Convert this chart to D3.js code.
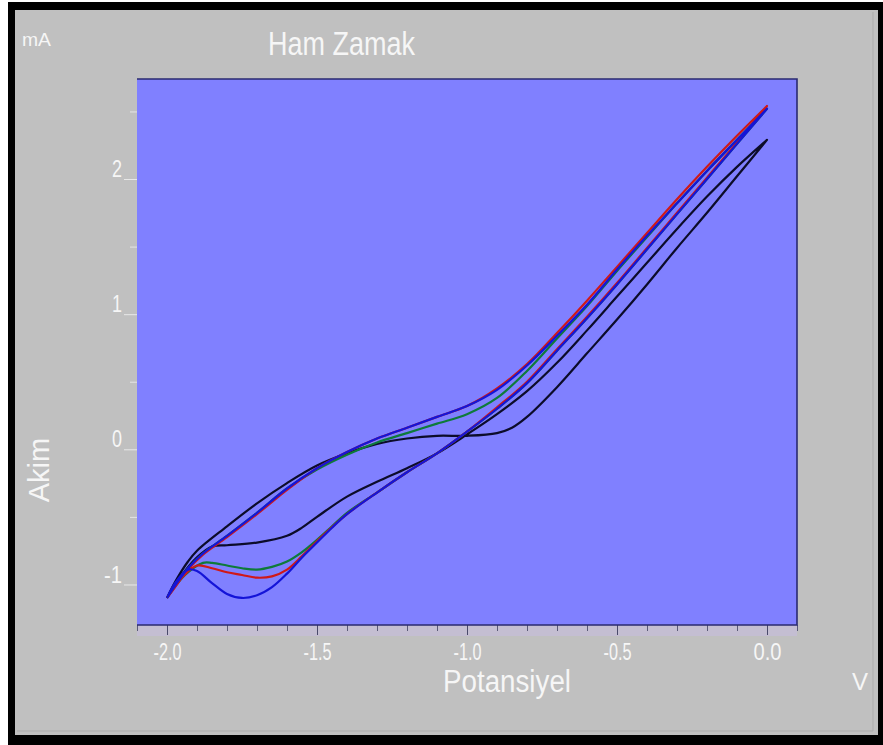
<!DOCTYPE html>
<html lang="tr">
<head>
    <meta charset="UTF-8">
    <title>Ham Zamak</title>
    <script src="https://d3js.org/d3.v7.min.js"></script>
    <style>
        body { margin: 0; padding: 0; background: #fff; }
        svg { display: block; }
        text { font-family: "Liberation Sans Narrow", "Arial Narrow", "Liberation Sans", sans-serif; fill: #f6f6f6; }
    </style>
</head>
<body>
<svg id="chart" width="883" height="745"></svg>
<script>
    // tick values
    const xMajor = [-2.0, -1.5, -1.0, -0.5, 0.0];
    const xMinor = d3.range(-21, 2).map(d => d / 10);
    const yMajor = [-1, 0, 1, 2];
    const yMinor = [-0.5, 0.5, 1.5, 2.5];

    // [potential V, current mA]
    const blackFwd = [[-2.0,-1.10],[-1.97,-0.97],[-1.93,-0.83],[-1.9,-0.75],[-1.8,-0.57],[-1.7,-0.40],[-1.6,-0.25],
        [-1.5,-0.12],[-1.4,-0.03],[-1.3,0.04],[-1.2,0.08],[-1.1,0.10],[-1.0,0.10],[-0.9,0.12],[-0.85,0.16],
        [-0.8,0.24],[-0.7,0.46],[-0.6,0.71],[-0.5,0.96],[-0.4,1.22],[-0.3,1.49],[-0.2,1.75],[-0.1,2.02],[0.0,2.29]];
    const blackRev = [[0.0,2.29],[-0.1,2.09],[-0.2,1.87],[-0.3,1.63],[-0.4,1.38],[-0.5,1.13],[-0.6,0.88],[-0.7,0.64],
        [-0.8,0.43],[-0.9,0.26],[-1.0,0.11],[-1.1,-0.03],[-1.2,-0.14],[-1.3,-0.24],[-1.4,-0.35],[-1.5,-0.50],
        [-1.55,-0.58],[-1.6,-0.64],[-1.7,-0.69],[-1.8,-0.71],[-1.85,-0.72],[-1.9,-0.80],[-1.95,-0.93],[-2.0,-1.10]];

    const blueFwd = [[-2.0,-1.10],[-1.97,-1.0],[-1.93,-0.88],[-1.88,-0.77],[-1.8,-0.64],[-1.7,-0.47],[-1.6,-0.29],
        [-1.5,-0.14],[-1.4,-0.02],[-1.3,0.08],[-1.2,0.16],[-1.1,0.24],[-1.0,0.32],[-0.9,0.44],[-0.8,0.62],
        [-0.7,0.84],[-0.6,1.07],[-0.5,1.33],[-0.4,1.58],[-0.3,1.82],[-0.2,2.06],[-0.1,2.29],[0.0,2.52]];
    const blueRev = [[0.0,2.52],[-0.1,2.26],[-0.2,2.0],[-0.3,1.74],[-0.4,1.48],[-0.5,1.22],[-0.6,0.97],[-0.7,0.73],
        [-0.8,0.49],[-0.9,0.30],[-1.0,0.13],[-1.1,-0.03],[-1.2,-0.17],[-1.3,-0.32],[-1.4,-0.48],[-1.45,-0.58],
        [-1.5,-0.69],[-1.55,-0.80],[-1.6,-0.92],[-1.65,-1.02],[-1.7,-1.08],[-1.75,-1.10],[-1.8,-1.07],
        [-1.85,-0.99],[-1.9,-0.90],[-1.93,-0.89],[-1.97,-0.98],[-2.0,-1.10]];

    const greenFwd = [[-2.0,-1.10],[-1.97,-1.0],[-1.93,-0.88],[-1.88,-0.77],[-1.8,-0.64],[-1.7,-0.47],[-1.6,-0.29],
        [-1.5,-0.15],[-1.4,-0.04],[-1.3,0.05],[-1.2,0.12],[-1.1,0.19],[-1.0,0.26],[-0.9,0.38],[-0.8,0.58],
        [-0.7,0.82],[-0.6,1.06],[-0.5,1.32],[-0.4,1.57],[-0.3,1.82],[-0.2,2.06],[-0.1,2.29],[0.0,2.52]];
    const greenRev = [[0.0,2.52],[-0.1,2.26],[-0.2,2.0],[-0.3,1.74],[-0.4,1.48],[-0.5,1.22],[-0.6,0.97],[-0.7,0.73],
        [-0.8,0.49],[-0.9,0.30],[-1.0,0.13],[-1.1,-0.03],[-1.2,-0.17],[-1.3,-0.32],[-1.4,-0.47],[-1.45,-0.57],
        [-1.5,-0.67],[-1.55,-0.76],[-1.6,-0.83],[-1.65,-0.87],[-1.7,-0.89],[-1.75,-0.88],[-1.8,-0.86],
        [-1.85,-0.84],[-1.88,-0.84],[-1.94,-0.93],[-2.0,-1.10]];

    const redFwd = [[-2.0,-1.10],[-1.97,-1.01],[-1.93,-0.89],[-1.88,-0.78],[-1.8,-0.65],[-1.7,-0.48],[-1.6,-0.30],
        [-1.5,-0.14],[-1.4,-0.02],[-1.3,0.08],[-1.2,0.16],[-1.1,0.24],[-1.0,0.32],[-0.9,0.45],[-0.8,0.63],
        [-0.7,0.86],[-0.6,1.10],[-0.5,1.35],[-0.4,1.60],[-0.3,1.85],[-0.2,2.09],[-0.1,2.32],[0.0,2.54]];
    const redRev = [[0.0,2.54],[-0.1,2.27],[-0.2,2.01],[-0.3,1.75],[-0.4,1.49],[-0.5,1.23],[-0.6,0.98],[-0.7,0.74],
        [-0.8,0.50],[-0.9,0.31],[-1.0,0.13],[-1.1,-0.03],[-1.2,-0.17],[-1.3,-0.32],[-1.4,-0.48],[-1.5,-0.68],
        [-1.55,-0.79],[-1.6,-0.89],[-1.65,-0.94],[-1.7,-0.95],[-1.75,-0.93],[-1.8,-0.91],[-1.85,-0.88],
        [-1.9,-0.86],[-1.95,-0.95],[-2.0,-1.10]];

    const series = [
        { name: "black", color: "#0c0c2a", pts: blackFwd.concat(blackRev) },
        { name: "green", color: "#0e7a3a", pts: greenFwd.concat(greenRev) },
        { name: "red",   color: "#d01818", pts: redFwd.concat(redRev) },
        { name: "blue",  color: "#1414d8", pts: blueFwd.concat(blueRev) }
    ];

    const svg = d3.select("#chart");
    const tickFont = "'Liberation Sans Narrow', 'Liberation Sans', sans-serif";

    // frame
    svg.append("rect").attr("x", 8).attr("y", 2).attr("width", 875).attr("height", 743).attr("fill", "#000");
    svg.append("rect").attr("x", 15).attr("y", 10).attr("width", 863).attr("height", 725).attr("fill", "#c0c0c0");
    svg.append("path").attr("d", "M873,12V731H17").attr("fill", "none").attr("stroke", "#ababab").attr("stroke-width", 1);

    const plot = { left: 137, right: 797, top: 79, bottom: 625 };
    const x = d3.scaleLinear().domain([-2.1, 0.1]).range([plot.left, plot.right]);
    const y = d3.scaleLinear().domain([-1.3, 2.74]).range([plot.bottom, plot.top]);

    // faint lavender strip under the axis
    svg.append("rect").attr("x", plot.left).attr("y", plot.bottom).attr("width", plot.right - plot.left)
        .attr("height", 11).attr("fill", "#c4bed2");

    svg.append("rect").attr("x", plot.left).attr("y", plot.top)
        .attr("width", plot.right - plot.left).attr("height", plot.bottom - plot.top)
        .attr("fill", "#8080ff");

    // x axis: minor + major ticks
    svg.append("g").attr("transform", `translate(0,${plot.bottom})`)
        .call(d3.axisBottom(x).tickValues(xMinor).tickSize(6).tickFormat(""))
        .call(g => g.select(".domain").remove())
        .call(g => g.selectAll("line").attr("stroke", "#5a5a78"));
    svg.append("g").attr("transform", `translate(0,${plot.bottom})`)
        .call(d3.axisBottom(x).tickValues(xMajor).tickSize(10).tickPadding(8).tickFormat(d => d.toFixed(1)))
        .call(g => g.select(".domain").remove())
        .call(g => g.selectAll("line").attr("stroke", "#4a4a6a"))
        .call(g => g.selectAll("text").attr("fill", "#f6f6f6").attr("font-size", 24)
            .attr("font-family", tickFont)
            .attr("textLength", 28).attr("lengthAdjust", "spacingAndGlyphs"));

    // y axis
    svg.append("g").attr("transform", `translate(${plot.left},0)`)
        .call(d3.axisLeft(y).tickValues(yMinor).tickSize(7).tickFormat(""))
        .call(g => g.select(".domain").remove())
        .call(g => g.selectAll("line").attr("stroke", "#e4e4e4"));
    svg.append("g").attr("transform", `translate(${plot.left},0)`)
        .call(d3.axisLeft(y).tickValues(yMajor).tickSize(13).tickPadding(2).tickFormat(d => String(d)))
        .call(g => g.select(".domain").remove())
        .call(g => g.selectAll("line").attr("stroke", "#e8e8e8"))
        .call(g => g.selectAll("text").attr("fill", "#f6f6f6").attr("font-size", 24).attr("dy", "-0.1em")
            .attr("font-family", tickFont)
            .attr("textLength", d => String(d).length * 8 + 2).attr("lengthAdjust", "spacingAndGlyphs"));

    // plot border (top, right, bottom)
    svg.append("path")
        .attr("d", `M${plot.left},${plot.top}H${plot.right}V${plot.bottom}H${plot.left}`)
        .attr("fill", "none").attr("stroke", "#2a2a70").attr("stroke-width", 1.6);

    // curves
    const line = d3.line()
        .x(d => x(d[0]))
        .y(d => y(d[1]))
        .curve(d3.curveCatmullRom.alpha(0.5));

    svg.append("g").selectAll("path").data(series).join("path")
        .attr("d", d => line(d.pts))
        .attr("fill", "none")
        .attr("stroke", d => d.color)
        .attr("stroke-width", 2.2)
        .attr("stroke-linejoin", "round");

    // labels
    svg.append("text").attr("x", 22).attr("y", 46).attr("font-size", 19)
        .attr("textLength", 29).attr("lengthAdjust", "spacingAndGlyphs").text("mA");
    svg.append("text").attr("x", 268).attr("y", 55).attr("font-size", 34)
        .attr("textLength", 147).attr("lengthAdjust", "spacingAndGlyphs").text("Ham Zamak");
    svg.append("text").attr("transform", "translate(49,470) rotate(-90)").attr("text-anchor", "middle")
        .attr("font-size", 29).text("Akim");
    svg.append("text").attr("x", 443).attr("y", 692).attr("font-size", 31)
        .attr("textLength", 128).attr("lengthAdjust", "spacingAndGlyphs").text("Potansiyel");
    svg.append("text").attr("x", 852).attr("y", 690).attr("font-size", 24).text("V");
</script>
</body>
</html>
